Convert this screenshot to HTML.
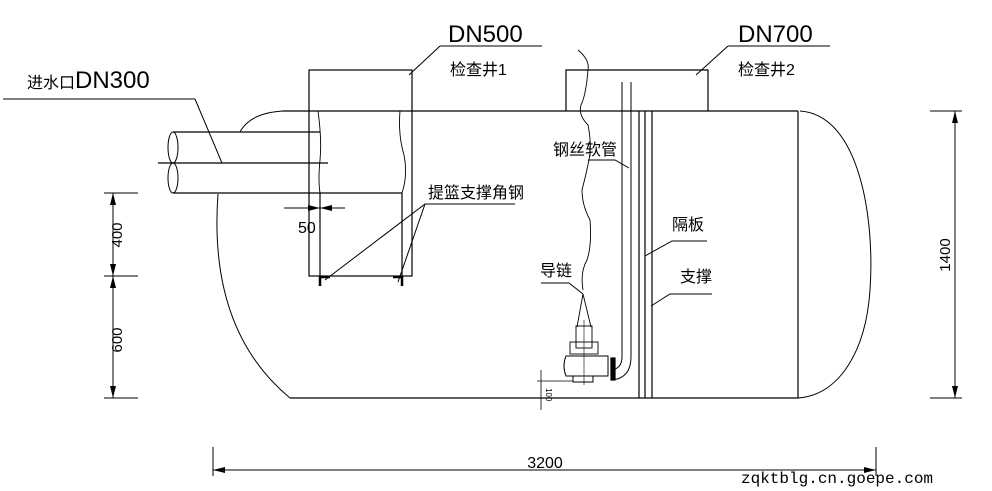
<!DOCTYPE html>
<html><head><meta charset="utf-8"><style>
html,body{margin:0;padding:0;background:#fff;}
svg{display:block;}
text{font-family:"Liberation Sans","Noto Sans CJK SC",sans-serif;fill:#000;}
</style></head><body>
<svg width="992" height="491" viewBox="0 0 992 491" xmlns="http://www.w3.org/2000/svg">
<g fill="none" stroke="#000" stroke-width="1.2">
<line x1="283" y1="111" x2="798" y2="111"/>
<line x1="290" y1="398" x2="798" y2="398"/>
<path d="M283,111 Q250,113 240,132" stroke-width="1"/>
<path d="M218,194 Q208,330 290,398" stroke-width="1"/>
<line x1="798" y1="111" x2="798" y2="398"/>
<path d="M800,111 C860,115 875,220 870,290 C866,350 840,395 798,398" stroke-width="1"/>
<rect x="309" y="70" width="103" height="206"/>
<path d="M318,111 Q322,140 320,160 Q318,180 320,193" stroke-width="0.9"/>
<path d="M400,111 Q398,135 404,155 Q408,175 402,193" stroke-width="0.9"/>
<line x1="320" y1="193" x2="320" y2="276"/>
<line x1="402" y1="193" x2="402" y2="276"/>
<line x1="173" y1="193" x2="402" y2="193"/>
<line x1="173" y1="132" x2="320" y2="132"/>
<line x1="158" y1="163" x2="328" y2="163"/>
<ellipse cx="173" cy="147.5" rx="5" ry="15.5" stroke-width="1"/>
<ellipse cx="173" cy="178" rx="5" ry="15" stroke-width="1"/>
<line x1="3" y1="99" x2="195" y2="99" stroke-width="1"/>
<line x1="195" y1="99" x2="222" y2="163" stroke-width="1"/>
<path d="M320,277 h10 M320,276 v10 M393,277 h9 M402,276 v10" stroke-width="2.5"/>
<polyline points="566,111 566,70 708,70 708,111"/>
<line x1="440" y1="46" x2="542" y2="46" stroke-width="1"/>
<line x1="440" y1="46" x2="409" y2="75" stroke-width="1"/>
<line x1="728" y1="46" x2="830" y2="46" stroke-width="1"/>
<line x1="728" y1="46" x2="696" y2="75" stroke-width="1"/>
<path d="M578,50 Q590,60 588,70 Q586,95 581,105 Q578,115 588,125 Q592,145 589,160 Q586,175 582,190 Q582,205 590,220 Q592,245 587,260 Q580,272 583,290" stroke-width="0.9"/>
<path d="M622,82 V357 Q622,368 612,370" stroke-width="1"/>
<path d="M631,82 V357 Q631,378 612,380" stroke-width="1"/>
<line x1="639" y1="111" x2="639" y2="398"/>
<line x1="645" y1="111" x2="645" y2="398"/>
<line x1="652" y1="111" x2="652" y2="398"/>
<polyline points="588,160 615,160 629,168" stroke-width="1"/>
<polyline points="707,241 672,241 645,256" stroke-width="1"/>
<polyline points="712,294 670,294 651,306" stroke-width="1"/>
<polyline points="541,283 569,283 583,294" stroke-width="1"/>
<polyline points="515,204 425,204 325,280" stroke-width="1"/>
<line x1="425" y1="204" x2="398" y2="282" stroke-width="1"/>
<path d="M583,294 L577,327 M583,294 L591,327" stroke-width="0.9"/>
<rect x="576" y="326" width="16" height="22" stroke-width="0.9"/>
<rect x="570" y="342" width="28" height="12" stroke-width="0.9"/>
<path d="M566,356 h42 v20 h-42 q-4,-10 0,-20z" stroke-width="1"/>
<rect x="573" y="376" width="20" height="6" stroke-width="1"/>
<rect x="611" y="358" width="4" height="22" fill="#000"/>
<line x1="584" y1="320" x2="584" y2="385" stroke-width="0.6"/>
<line x1="537" y1="381" x2="573" y2="381" stroke-width="0.8"/>
<line x1="541" y1="370" x2="541" y2="410" stroke-width="0.8"/>
<line x1="104" y1="193" x2="138" y2="193" stroke-width="1"/>
<line x1="104" y1="276" x2="138" y2="276" stroke-width="1"/>
<line x1="104" y1="398" x2="138" y2="398" stroke-width="1"/>
<line x1="113" y1="193" x2="113" y2="398" stroke-width="1"/>
<line x1="930" y1="111" x2="962" y2="111" stroke-width="1"/>
<line x1="930" y1="398" x2="962" y2="398" stroke-width="1"/>
<line x1="955" y1="111" x2="955" y2="398" stroke-width="1"/>
<line x1="213" y1="447" x2="213" y2="476" stroke-width="1"/>
<line x1="876" y1="447" x2="876" y2="476" stroke-width="1"/>
<line x1="213" y1="470" x2="876" y2="470" stroke-width="1"/>
<line x1="284" y1="208" x2="345" y2="208" stroke-width="1"/>
</g>
<g fill="#000">
<path d="M113,193 l-3,12 h6z M113,276 l-3,-12 h6z M113,276 l-3,12 h6z M113,398 l-3,-12 h6z"/>
<path d="M955,111 l-3,12 h6z M955,398 l-3,-12 h6z"/>
<path d="M213,470 l12,-3 v6z M876,470 l-12,-3 v6z"/>
<path d="M320,208 l-12,-3 v6z M320,208 l12,-3 v6z"/>
</g>
<text x="27" y="88" font-size="16">进水口<tspan font-size="24" font-weight="300">DN300</tspan></text>
<text x="448" y="42" font-size="24" font-weight="300">DN500</text>
<text x="450" y="75" font-size="16">检查井1</text>
<text x="738" y="42" font-size="24" font-weight="300">DN700</text>
<text x="738" y="75" font-size="16">检查井2</text>
<text x="553" y="155" font-size="16">钢丝软管</text>
<text x="672" y="230" font-size="16">隔板</text>
<text x="680" y="282" font-size="16">支撑</text>
<text x="540" y="276" font-size="16">导链</text>
<text x="428" y="198" font-size="16">提篮支撑角钢</text>
<text x="298" y="233" font-size="16">50</text>
<text x="545" y="468" font-size="16" text-anchor="middle">3200</text>
<text transform="translate(122,235) rotate(-90)" font-size="15" text-anchor="middle">400</text>
<text transform="translate(122,340) rotate(-90)" font-size="15" text-anchor="middle">600</text>
<text transform="translate(950,255) rotate(-90)" font-size="15" text-anchor="middle">1400</text>
<text transform="translate(546,388) rotate(90)" font-size="8">100</text>
<text x="741" y="483" font-size="16" style="font-family:'Liberation Mono',monospace" fill="#333">zqktblg.cn.goepe.com</text>
</svg>
</body></html>
